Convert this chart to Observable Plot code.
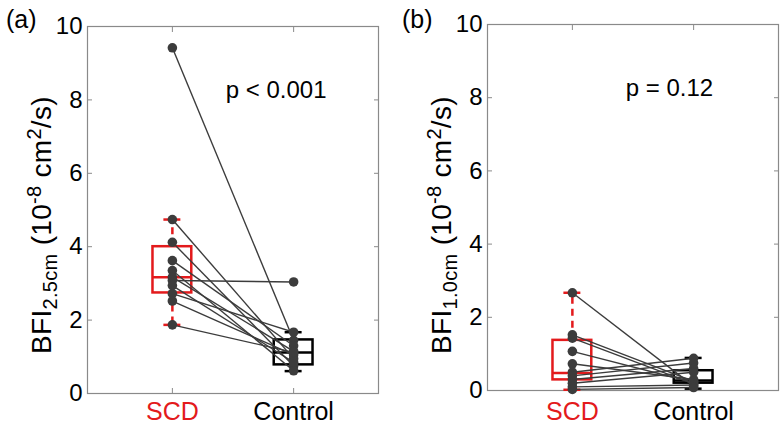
<!DOCTYPE html>
<html><head><meta charset="utf-8">
<script src="https://cdn.jsdelivr.net/npm/d3@7"></script>
<script src="https://cdn.jsdelivr.net/npm/@observablehq/plot@0.6"></script>
<style>
body{margin:0;background:#fff;font-family:"Liberation Sans",Arial,Helvetica,sans-serif;}
#wrap{position:relative;width:780px;height:426px;overflow:hidden;background:#fff}
.panel{position:absolute;top:0}
.ylab{position:absolute;white-space:nowrap;font-size:28px;color:#000;transform:translate(-50%,-50%) rotate(-90deg);line-height:1;letter-spacing:0.3px}
.ylab sub,.ylab sup{font-size:20px}
.plab{position:absolute;font-size:25px;color:#000;line-height:1}
</style></head><body><div id="wrap"></div><script>
// ---- data ----
const groups = ["SCD", "Control"];
const groupPos = [1, 2];
const groupColors = ["#e31a1c", "#000000"];
const yTicks = [0, 2, 4, 6, 8, 10];

// panel (a): BFI 2.5 cm, paired subjects
const scdA = [9.42, 4.74, 4.12, 3.62, 3.35, 3.17, 3.08, 2.94, 2.72, 2.52, 1.87];
const ctlA = [1.45, 0.95, 0.75, 1.30, 0.62, 1.15, 3.04, 0.85, 1.67, 1.05, 1.12];
// panel (b): BFI 1.0 cm, paired subjects
const scdB = [2.67, 1.52, 1.43, 1.07, 0.73, 0.50, 0.40, 0.30, 0.20, 0.10, 0.03];
const ctlB = [0.12, 0.25, 0.18, 0.22, 0.30, 0.88, 0.75, 0.60, 0.50, 0.15, 0.08];

// box statistics [lower whisker, q1, median, q3, upper whisker]
const boxA_SCD = [1.87, 2.74, 3.17, 4.00, 4.74];
const boxA_Ctl = [0.61, 0.78, 1.12, 1.46, 1.67];
const boxB_SCD = [0.02, 0.29, 0.48, 1.37, 2.67];
const boxB_Ctl = [0.05, 0.20, 0.27, 0.54, 0.89];

const pTextA = "p < 0.001";
const pTextB = "p = 0.12";

function boxRows(bs) {
  return bs.map((b, i) => ({pos: groupPos[i], color: groupColors[i], lo: b[0], q1: b[1], med: b[2], q3: b[3], hi: b[4]}));
}

function panel(scd, ctl, boxes, ptext, m, xlabPad, width) {
  const pairs = scd.map((s, i) => ({s, c: ctl[i]}));
  const pts = [...scd.map(v => ({pos: groupPos[0], v})), ...ctl.map(v => ({pos: groupPos[1], v}))];
  const bx = boxRows(boxes);
  const hw = 0.16, cw = 0.07;
  return Plot.plot({
    width, height: 426,
    marginLeft: m[0], marginRight: m[1], marginTop: m[2], marginBottom: m[3],
    style: {fontFamily: '"Liberation Sans", Arial, sans-serif', background: "white", overflow: "visible"},
    x: {domain: [0.3, 2.7], axis: null},
    y: {domain: [0, 10], axis: null},
    marks: [
      Plot.frame({stroke: "#8a8a8a", strokeWidth: 1.2}),
      Plot.axisY({ticks: yTicks, tickSize: 0, tickPadding: 5, fontSize: 24, label: null, fill: "#000"}),
      Plot.axisY({ticks: yTicks, tickSize: -5, tickFormat: () => "", label: null, stroke: "#8a8a8a"}),
      Plot.axisY({ticks: yTicks, anchor: "right", tickSize: -5, tickFormat: () => "", label: null, stroke: "#8a8a8a"}),
      Plot.axisX({ticks: groupPos, tickSize: 0, tickPadding: xlabPad, fontSize: 25, label: null,
        tickFormat: d => groups[groupPos.indexOf(d)], fill: d => groupColors[groupPos.indexOf(d)]}),
      Plot.axisX({ticks: groupPos, tickSize: -5, tickFormat: () => "", label: null, stroke: "#8a8a8a"}),
      Plot.axisX({ticks: groupPos, anchor: "top", tickSize: -5, tickFormat: () => "", label: null, stroke: "#8a8a8a"}),
      // whiskers
      Plot.ruleX(bx, {x: "pos", y1: "q3", y2: "hi", stroke: "color", strokeWidth: 2.5, strokeDasharray: "7,5"}),
      Plot.ruleX(bx, {x: "pos", y1: "q1", y2: "lo", stroke: "color", strokeWidth: 2.5, strokeDasharray: "7,5"}),
      Plot.ruleY(bx, {y: "hi", x1: d => d.pos - cw, x2: d => d.pos + cw, stroke: "color", strokeWidth: 2.5}),
      Plot.ruleY(bx, {y: "lo", x1: d => d.pos - cw, x2: d => d.pos + cw, stroke: "color", strokeWidth: 2.5}),
      // box + median
      Plot.rect(bx, {x1: d => d.pos - hw, x2: d => d.pos + hw, y1: "q1", y2: "q3", stroke: "color", fill: "none", strokeWidth: 2.5}),
      Plot.ruleY(bx, {y: "med", x1: d => d.pos - hw, x2: d => d.pos + hw, stroke: "color", strokeWidth: 2.5}),
      // paired lines
      Plot.link(pairs, {x1: () => groupPos[0], x2: () => groupPos[1], y1: "s", y2: "c", stroke: "#3c3c3c", strokeWidth: 1.4}),
      Plot.dot(pts, {x: "pos", y: "v", r: 4.8, fill: "#3c3c3c", stroke: "none"}),
      Plot.text([ptext], {x: 1.44, y: 8.25, text: d => d, textAnchor: "start", lineAnchor: "middle", fontSize: 24, fill: "#000"})
    ]
  });
}

const wrap = document.getElementById("wrap");
const pa = panel(scdA, ctlA, [boxA_SCD, boxA_Ctl], pTextA, [87, 12, 26, 33], 9, 390);
pa.classList.add("panel"); pa.style.left = "0px";
wrap.appendChild(pa);
const pb = panel(scdB, ctlB, [boxB_SCD, boxB_Ctl], pTextB, [87, 2, 24, 36], 12, 380);
pb.classList.add("panel"); pb.style.left = "400px";
wrap.appendChild(pb);

function addHTML(cls, html, left, top) {
  const d = document.createElement("div");
  d.className = cls; d.innerHTML = html;
  d.style.left = left + "px"; d.style.top = top + "px";
  wrap.appendChild(d);
}
addHTML("ylab", "BFI<sub>2.5cm</sub> (10<sup>-8</sup> cm<sup>2</sup>/s)", 42, 225);
addHTML("ylab", "BFI<sub>1.0cm</sub> (10<sup>-8</sup> cm<sup>2</sup>/s)", 442, 225);
addHTML("plab", "(a)", 6, 7);
addHTML("plab", "(b)", 402, 7);
</script></body></html>
